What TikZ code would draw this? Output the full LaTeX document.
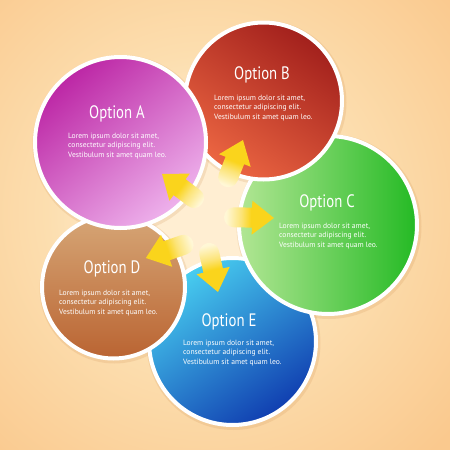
\documentclass[tikz,border=0pt]{standalone}
\usepackage{fontspec}
\setmainfont{PT Sans}
\newfontfamily\ttlfont[FakeStretch=0.82]{PT Sans}
\definecolor{bgout}{RGB}{250,201,142}
\definecolor{glowc}{RGB}{255,238,210}
\definecolor{glowm}{RGB}{252,222,175}
\definecolor{arrpale}{RGB}{255,247,214}
\definecolor{arrmid}{RGB}{252,228,120}
\definecolor{arryel}{RGB}{250,212,28}
\definecolor{aDark}{RGB}{188,38,165}
\definecolor{aLight}{RGB}{238,178,236}
\definecolor{bDark}{RGB}{162,32,28}
\definecolor{bLight}{RGB}{236,102,66}
\definecolor{cDark}{RGB}{36,186,36}
\definecolor{cLight}{RGB}{178,230,148}
\definecolor{dTop}{RGB}{214,166,118}
\definecolor{dBot}{RGB}{186,100,50}
\definecolor{eLight}{RGB}{72,206,240}
\definecolor{eDark}{RGB}{16,62,176}
\definecolor{shadowc}{RGB}{205,140,80}
\pgfdeclareradialshading{bgglow}{\pgfpoint{0bp}{0bp}}{color(0bp)=(glowc); color(4bp)=(glowc); color(12bp)=(glowm); color(25bp)=(bgout); color(50bp)=(bgout)}
\pgfdeclarehorizontalshading{arrsh}{100bp}{color(0bp)=(arrpale); color(27bp)=(arrpale); color(42bp)=(arrmid); color(52bp)=(arryel); color(100bp)=(arryel)}
\tikzset{
  ttl/.style={text=white, font=\ttlfont\fontsize{18}{18}\selectfont, inner sep=0pt},
  bodytxt/.style={text=white, align=left, font=\fontsize{7.6}{9.7}\selectfont, inner sep=0pt, anchor=west},
  rim/.style={draw=white, line width=4pt},
  shd/.style={fill=shadowc, opacity=0.18},
}
\begin{document}
\begin{tikzpicture}[x=1pt,y=-1pt]
\useasboundingbox (0,0) rectangle (450,450);
\begin{scope}
\clip (0,0) rectangle (450,450);
\fill[bgout] (0,0) rectangle (450,450);
\shade[shading=bgglow] (205,212) circle (330);
\end{scope}
% centres
\coordinate (cA) at (120.5,142.5);
\coordinate (cB) at (263.5,101);
\coordinate (cC) at (328,225);
\coordinate (cD) at (113.5,287);
\coordinate (cE) at (232.5,341.5);
% shadows
\foreach \c/\r in {cA/87.5,cB/80.5,cC/91,cD/73.5,cE/85.5}{
  \fill[shd] ([xshift=1pt,yshift=-1.5pt]\c) circle (\r+1.5);
}
% circles: E, C, B, D, A
\shade[top color=eLight, bottom color=eDark, shading angle=35] (cE) circle (83.5);
\draw[rim] (cE) circle (83.5);
\shade[left color=cLight, right color=cDark] (cC) circle (89);
\draw[rim] (cC) circle (89);
\shade[top color=bDark, bottom color=bLight, shading angle=-35] (cB) circle (78.5);
\draw[rim] (cB) circle (78.5);
\shade[top color=dTop, bottom color=dBot] (cD) circle (71.5);
\draw[rim] (cD) circle (71.5);
\shade[top color=aDark, bottom color=aLight, shading angle=40] (cA) circle (85.5);
\draw[rim] (cA) circle (85.5);
% texts
\node[ttl] (tA) at (117,114) {Option A};
\node[bodytxt] (bA) at (68,146) {Lorem ipsum dolor sit amet,\\consectetur adipiscing elit.\\Vestibulum sit amet quam leo.};
\node[ttl] (tB) at (262,75) {Option B};
\node[bodytxt] (bB) at (214,108) {Lorem ipsum dolor sit amet,\\consectetur adipiscing elit.\\Vestibulum sit amet quam leo.};
\node[ttl] (tC) at (327,203) {Option C};
\node[bodytxt] (bC) at (279,236) {Lorem ipsum dolor sit amet,\\consectetur adipiscing elit.\\Vestibulum sit amet quam leo.};
\node[ttl] (tD) at (112,269) {Option D};
\node[bodytxt] (bD) at (59,303) {Lorem ipsum dolor sit amet,\\consectetur adipiscing elit.\\Vestibulum sit amet quam leo.};
\node[ttl] (tE) at (229,322) {Option E};
\node[bodytxt] (bE) at (183,353) {Lorem ipsum dolor sit amet,\\consectetur adipiscing elit.\\Vestibulum sit amet quam leo.};
% arrows
\foreach \bx/\by/\ang in {194/198/143.1, 228.2/177.2/68.3, 234/217.3/-1, 183.6/244.8/199.3, 209.2/253/-77.3}{
  \begin{scope}[transform canvas={shift={(\bx,\by)},rotate=\ang}]
    \shade[shading=arrsh] (0,10) -- (18,10) -- (18,17) -- (40,0) -- (18,-17) -- (18,-10) -- (0,-10) arc[start angle=-90,end angle=-270,radius=10] -- cycle;
  \end{scope}
}
\end{tikzpicture}
\end{document}
